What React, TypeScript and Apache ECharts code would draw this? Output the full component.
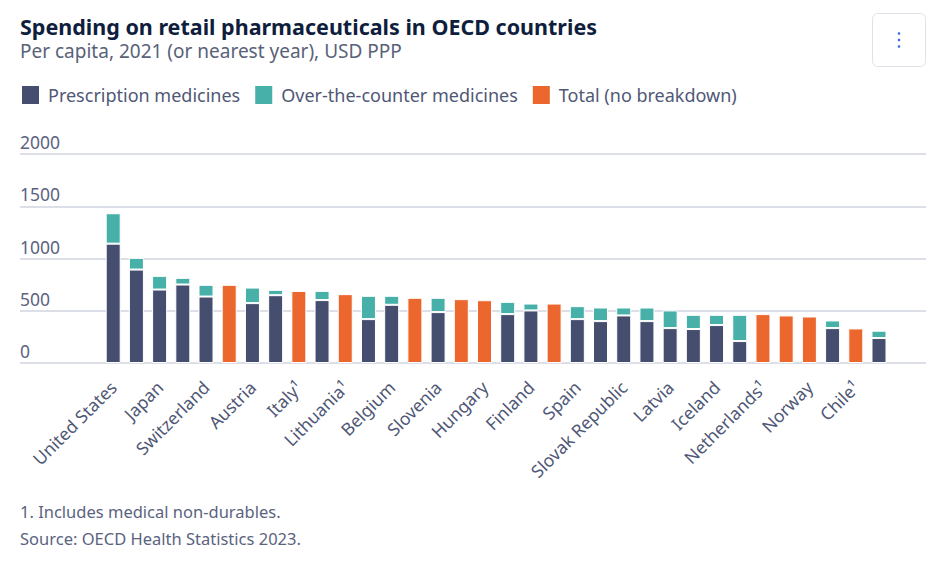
import React, { useEffect, useRef } from "react";
import * as echarts from "echarts";

const countries = [
  "United States", "Germany", "Japan", "Canada", "Switzerland", "Korea", "Austria", "France",
  "Italy¹", "Greece", "Lithuania¹", "Czechia", "Belgium", "Ireland", "Slovenia", "Portugal",
  "Hungary", "Australia", "Finland", "Luxembourg", "Spain", "Estonia", "Slovak Republic", "Denmark",
  "Latvia", "Sweden", "Iceland", "Poland", "Netherlands¹", "Israel", "Norway", "United Kingdom",
  "Chile¹", "Mexico",
];

const prescription = [
  1142, 894, 703, 751, 636, null, 573, 649,
  null, 602, null, 420, 557, null, 487, null,
  null, 468, 503, null, 420, 401, 455, 401,
  334, 325, 363, 210, null, null, null, 334,
  null, 239,
];

const overTheCounter = [
  291, 112, 131, 64, 112, null, 149, 51,
  null, 88, null, 223, 86, null, 137, null,
  null, 117, 66, null, 124, 130, 76, 130,
  169, 136, 98, 251, null, null, null, 73,
  null, 70,
];

const totalNoBreakdown = [
  null, null, null, null, null, 748, null, null,
  690, null, 659, null, null, 624, null, 611,
  601, null, null, 569, null, null, null, null,
  null, null, null, null, 468, 455, 445, null,
  331, null,
];

const yTicks = [0, 500, 1000, 1500, 2000];

const FONT = "'Noto Sans', 'Open Sans', sans-serif";
const NAVY = "#464e70";
const TEAL = "#47b0a8";
const ORANGE = "#ec672d";
const GRID = "#d0d4e0";
const TEXT = "#4f5876";

export default function App() {
  const ref = useRef<HTMLDivElement>(null);

  useEffect(() => {
    if (!ref.current) return;
    const chart = echarts.init(ref.current, null, { renderer: "svg" });
    const yMin = yTicks[0];
    const yMax = yTicks[yTicks.length - 1];
    const yInterval = yTicks[1] - yTicks[0];

    const barSeries = (name: string, data: (number | null)[], color: string) => ({
      name,
      type: "bar",
      stack: "spend",
      xAxisIndex: 1,
      yAxisIndex: 1,
      barWidth: 15,
      data,
      itemStyle: { color, borderColor: "#ffffff", borderWidth: 1 },
      emphasis: { disabled: true },
    });

    chart.setOption({
      animation: false,
      textStyle: { fontFamily: FONT },
      title: [
        {
          text: "Spending on retail pharmaceuticals in OECD countries",
          left: 20,
          top: 15,
          padding: 0,
          textStyle: {
            fontFamily: FONT,
            fontSize: 21.5,
            lineHeight: 22,
            fontWeight: "bold",
            color: "#0f1e3d",
          },
        },
        {
          text: "Per capita, 2021 (or nearest year), USD PPP",
          left: 20,
          top: 41,
          padding: 0,
          textStyle: {
            fontFamily: FONT,
            fontSize: 19,
            lineHeight: 20,
            fontWeight: "normal",
            color: "#596279",
          },
        },
      ],
      legend: {
        left: 20,
        top: 84,
        padding: 0,
        itemWidth: 19,
        itemHeight: 20,
        itemGap: 13,
        icon: "rect",
        selectedMode: false,
        textStyle: { fontFamily: FONT, fontSize: 18, color: TEXT, padding: [0, 0, 0, 3] },
        data: ["Prescription medicines", "Over-the-counter medicines", "Total (no breakdown)"],
      },
      grid: [
        { left: 20, right: 10, top: 154, bottom: 205 },
        { left: 101.6, right: 45.4, top: 154, bottom: 205 },
      ],
      xAxis: [
        { type: "value", gridIndex: 0, show: false, min: 0, max: 1 },
        {
          type: "category",
          gridIndex: 1,
          data: countries,
          axisLine: { show: false },
          axisTick: { show: false },
          axisLabel: {
            interval: 1,
            rotate: 45,
            margin: 21,
            fontFamily: FONT,
            fontSize: 17.5,
            color: TEXT,
          },
        },
      ],
      yAxis: [
        {
          type: "value",
          gridIndex: 0,
          min: yMin,
          max: yMax,
          interval: yInterval,
          axisLine: { show: false },
          axisTick: { show: false },
          splitLine: { show: true, lineStyle: { color: GRID, width: 1.5 } },
          axisLabel: {
            inside: true,
            margin: 0,
            verticalAlign: "bottom",
            padding: [0, 0, 3, 0],
            fontFamily: FONT,
            fontSize: 17.5,
            color: "#5a6380",
            formatter: (v: number) => String(v),
          },
        },
        {
          type: "value",
          gridIndex: 1,
          min: yMin,
          max: yMax,
          interval: yInterval,
          show: false,
          splitLine: { show: false },
        },
      ],
      series: [
        barSeries("Prescription medicines", prescription, NAVY),
        barSeries("Over-the-counter medicines", overTheCounter, TEAL),
        barSeries("Total (no breakdown)", totalNoBreakdown, ORANGE),
      ],
      graphic: [
        {
          type: "rect",
          shape: { x: 872.5, y: 13.5, width: 53, height: 53, r: 5 },
          style: { fill: "#ffffff", stroke: "#dfe2e9", lineWidth: 1 },
        },
        { type: "circle", shape: { cx: 899, cy: 33.5, r: 1.3 }, style: { fill: "#3d6ee6" } },
        { type: "circle", shape: { cx: 899, cy: 40, r: 1.3 }, style: { fill: "#3d6ee6" } },
        { type: "circle", shape: { cx: 899, cy: 46.5, r: 1.3 }, style: { fill: "#3d6ee6" } },
        {
          type: "text",
          left: 20,
          top: 503,
          style: { text: "1. Includes medical non-durables.", font: `16.5px ${FONT}`, fill: "#5a6380" },
        },
        {
          type: "text",
          left: 20,
          top: 530,
          style: { text: "Source: OECD Health Statistics 2023.", font: `16.5px ${FONT}`, fill: "#5a6380" },
        },
      ],
    });

    return () => chart.dispose();
  }, []);

  return (
    <div
      ref={ref}
      style={{ position: "fixed", left: 0, top: 0, width: 936, height: 568, background: "#ffffff" }}
    />
  );
}
